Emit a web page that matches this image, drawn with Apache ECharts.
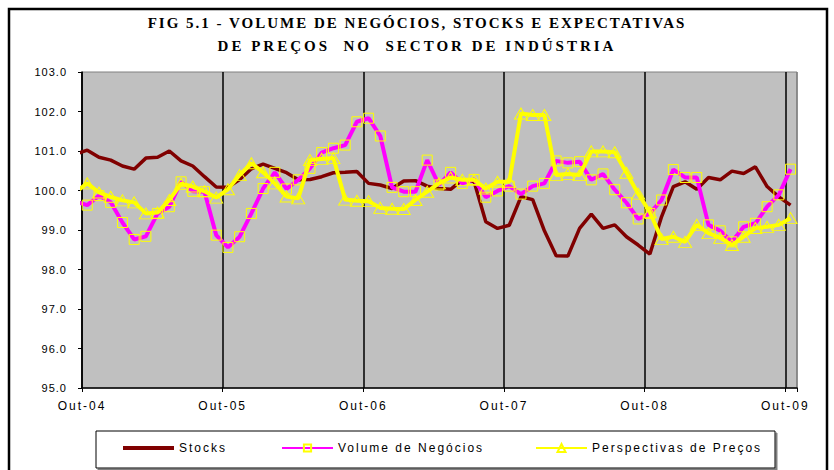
<!DOCTYPE html>
<html><head><meta charset="utf-8">
<script src="https://cdn.jsdelivr.net/npm/echarts@6/dist/echarts.min.js"></script>
<style>
html,body{margin:0;padding:0;background:#fff;}
#chart{width:834px;height:470px;}
#chart svg text{letter-spacing:2px;}
#chart svg text[style*="11px"]{letter-spacing:1px;}
#chart svg text[style*=", serif"]{letter-spacing:3px;}
</style></head><body><div id="chart"></div>
<script>
// Tick labels (one per October, every 12 months)
const xTickLabels = ['Out-04','Out-05','Out-06','Out-07','Out-08','Out-09'];
// Monthly observations, first one just before Out-04
const stocks = [100.92,101.02,100.84,100.77,100.62,100.54,100.82,100.84,101.00,100.75,100.62,100.35,100.09,100.08,100.28,100.55,100.67,100.56,100.45,100.27,100.28,100.35,100.45,100.46,100.48,100.18,100.14,100.05,100.24,100.25,100.11,100.05,100.03,100.27,100.23,99.21,99.04,99.12,99.84,99.77,98.98,98.35,98.34,99.04,99.40,99.04,99.13,98.83,98.62,98.39,99.34,100.10,100.22,100.03,100.33,100.27,100.49,100.43,100.60,100.10,99.84,99.63];
const volume = [99.72,99.63,99.87,99.70,99.19,98.76,98.84,99.42,99.59,100.22,99.98,99.97,98.87,98.56,98.83,99.42,100.05,100.46,100.04,100.27,100.56,100.96,101.07,101.15,101.74,101.83,101.38,100.08,99.97,99.97,100.77,100.14,100.46,100.18,100.28,99.83,99.99,100.11,99.91,100.11,100.18,100.75,100.70,100.73,100.27,100.42,100.02,99.69,99.28,99.42,99.76,100.53,100.33,100.33,99.13,98.98,98.70,99.08,99.17,99.59,99.89,100.54];
const precos = [99.96,100.18,99.95,99.84,99.75,99.70,99.42,99.44,99.76,100.17,100.10,99.98,99.82,100.03,100.39,100.69,100.46,100.18,99.85,99.80,100.77,100.80,100.82,99.77,99.74,99.73,99.56,99.54,99.53,99.76,99.97,100.18,100.33,100.27,100.27,100.05,100.22,100.22,101.95,101.91,101.91,100.39,100.42,100.39,100.99,100.99,100.97,100.45,99.92,99.45,98.77,98.83,98.70,99.13,98.92,98.80,98.62,98.83,99.05,99.08,99.13,99.30];
const seriesNames = ['Stocks','Volume de Negócios','Perspectivas de Preços'];
const titleLine1 = 'FIG 5.1 - VOLUME DE NEGÓCIOS, STOCKS E EXPECTATIVAS';
const titleLine2 = 'DE PREÇOS  NO  SECTOR DE INDÚSTRIA';
const firstObsOffset = -0.55; // months between Out-04 and the first observation

function toPairs(arr, withMarker){
  return arr.map((v,i)=>{
    const item = {value:[i+firstObsOffset, v]};
    if (withMarker && i===0) item.symbol='none';
    return item;
  });
}

const chart = echarts.init(document.getElementById('chart'), null, {renderer:'svg'});
const legendText = {fontSize:12, fontFamily:'Liberation Sans', color:'#000'};
function legendAt(left, item, h){
  return {left:left, top:442, padding:0, itemWidth:51, itemHeight:h, itemGap:0,
    textStyle:legendText, data:[item], selectedMode:false};
}
chart.setOption({
  animation:false,
  backgroundColor:'#fff',
  title:{text:titleLine1, subtext:titleLine2, left:'center', top:14, padding:0, itemGap:5,
    textStyle:{fontFamily:'Liberation Serif', fontWeight:'bold', fontSize:15, lineHeight:18, color:'#000'},
    subtextStyle:{fontFamily:'Liberation Serif, serif', fontWeight:'bold', fontSize:15, lineHeight:18, color:'#000'}},
  graphic:[
    {type:'rect', z:-10, shape:{x:9,y:9,width:818,height:475}, style:{fill:'none', stroke:'#000', lineWidth:2.5}},
    {type:'rect', z:-5, shape:{x:96,y:431,width:679,height:37},
      style:{fill:'#fff', stroke:'#000', lineWidth:1, shadowColor:'#808080', shadowOffsetX:2, shadowOffsetY:2, shadowBlur:0}}
  ],
  legend:[
    legendAt(123, {name:seriesNames[0], icon:'rect'}, 4),
    legendAt(281, {name:seriesNames[1]}, 9),
    legendAt(535, {name:seriesNames[2]}, 10)
  ],
  grid:{left:82, right:37, top:72, bottom:82, show:true, backgroundColor:'#C0C0C0', borderColor:'#808080', borderWidth:1},
  xAxis:{type:'value', min:0, max:61, interval:12,
    axisLine:{lineStyle:{color:'#000', width:1.5}},
    axisTick:{show:true, length:4, lineStyle:{color:'#000'}},
    splitLine:{show:true, lineStyle:{color:['#000','#000','#000','#000','#000','#000','#808080'], width:1.5}},
    axisLabel:{margin:12, fontSize:12, fontFamily:'Liberation Sans', color:'#000',
      formatter:v=> (v%12===0 ? xTickLabels[v/12] : '')}
  },
  yAxis:{type:'value', min:95, max:103, interval:1,
    axisLine:{show:true, lineStyle:{color:'#000', width:1.5}},
    axisTick:{show:true, length:4, lineStyle:{color:'#000'}},
    splitLine:{show:false},
    axisLabel:{margin:15, fontSize:11, fontFamily:'Liberation Sans', color:'#000', formatter:v=>v.toFixed(1)}
  },
  series:[
    {name:seriesNames[0], type:'line', clip:false, data:toPairs(stocks,false), symbol:'none', showSymbol:false,
      lineStyle:{color:'#800000', width:3.5}, itemStyle:{color:'#800000'}},
    {name:seriesNames[1], type:'line', clip:false, data:toPairs(volume,true), symbol:'rect', symbolSize:10,
      lineStyle:{color:'#FF00FF', width:4}, itemStyle:{color:'transparent', borderColor:'#FFFF00', borderWidth:1}},
    {name:seriesNames[2], type:'line', clip:false, data:toPairs(precos,true), symbol:'triangle', symbolSize:[13,11],
      lineStyle:{color:'#FFFF00', width:4}, itemStyle:{color:'transparent', borderColor:'#FFFF00', borderWidth:1}}
  ]
});
</script></body></html>
